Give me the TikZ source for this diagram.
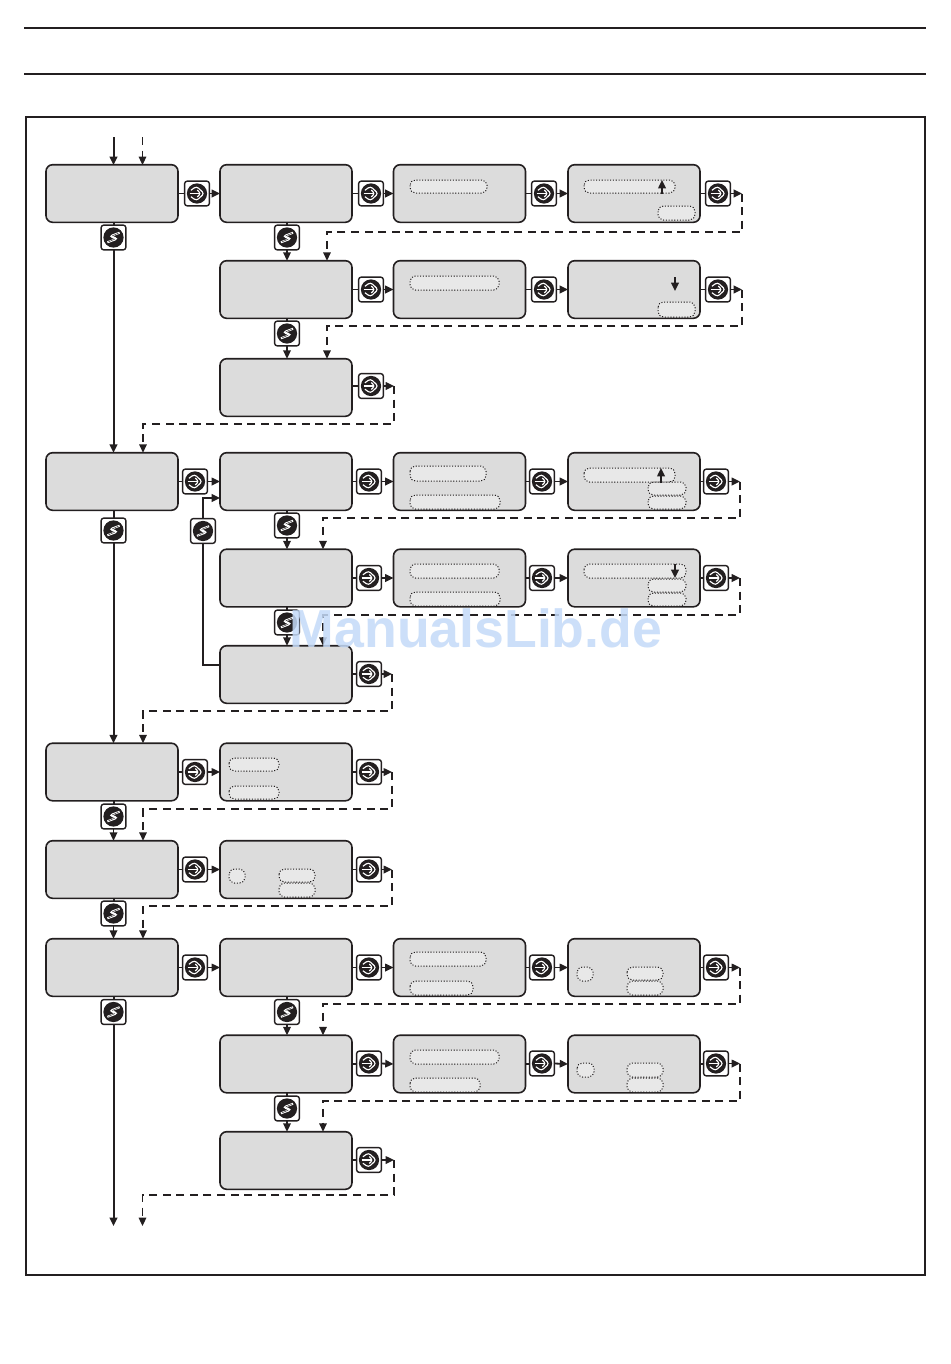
\documentclass[tikz,border=0pt]{standalone}
\usepackage{fontspec}
\setmainfont{Liberation Sans}
\usetikzlibrary{arrows.meta}
\definecolor{panelgray}{HTML}{DCDCDC}
\definecolor{inkc}{HTML}{231F20}
\definecolor{wmark}{HTML}{C4DAF8}
\tikzset{
 x=0.75pt,y=-0.75pt,
 panel/.style={draw=inkc,line width=1.2pt,fill=panelgray,rounded corners=5pt,minimum width=99pt,minimum height=43.2pt,inner sep=0pt,outer sep=0pt},
 btnbase/.style={draw=inkc,line width=1.05pt,fill=white,rounded corners=2pt,minimum width=18.6pt,minimum height=18.6pt,inner sep=0pt,outer sep=0pt},
 nextbtn/.style={btnbase,path picture={
   \fill[inkc] (path picture bounding box.center) circle (7.6pt);
   \begin{scope}[shift={(path picture bounding box.center)},x=1pt,y=1pt]
   \draw[white,line width=0.85pt,line join=miter] (-4.6,2.4)--(-0.4,5.4)--(5.4,0)--(-0.4,-5.4)--(-4.6,-2.4);
   \draw[white,line width=0.85pt] (-5.6,0)--(2.6,0);
   \draw[white,line width=0.85pt] (0.2,2.6)--(2.9,0)--(0.2,-2.6);
   \end{scope}}},
 selbtn/.style={btnbase,path picture={
   \fill[inkc] (path picture bounding box.center) circle (7.6pt);
   \begin{scope}[shift={(path picture bounding box.center)},x=1pt,y=1pt]
   \draw[white,line width=1.5pt,line join=miter] (4.6,3.6)--(-2.6,0.9)--(2.8,-0.9)--(-4.6,-3.6);
   \draw[inkc,line width=0.3pt] (3.8,3.3)--(-1,1.2);
   \draw[inkc,line width=0.3pt] (-3.8,-3.3)--(1,-1.2);
   \end{scope}}},
 hotarea/.style={draw=inkc,line width=0.75pt,dash pattern=on 0.8pt off 1.3pt,fill=white,fill opacity=0.35,rounded corners=4pt},
 solidline/.style={draw=inkc,line width=1.5pt},
 tiparrow/.style={draw=inkc,line width=1.35pt,-{Triangle[length=6.2pt,width=5.6pt]}},
 dashline/.style={draw=inkc,line width=1.15pt,dash pattern=on 6pt off 4.2pt},
 dasharrow/.style={dashline,-{Triangle[length=6.2pt,width=5.6pt]}},
 edgeline/.style={draw=inkc,line width=1pt},
}
\newcommand{\hot}[4]{\path[hotarea] (#1,#2) rectangle (#3,#4);}
\begin{document}
\begin{tikzpicture}
\useasboundingbox (0,0) rectangle (950,1364);
\fill[white] (0,0) rectangle (950,1364);
\coordinate (ruleAl) at (24,28); \coordinate (ruleAr) at (926,28);
\coordinate (ruleBl) at (24,74); \coordinate (ruleBr) at (926,74);
\draw[edgeline,line width=1.2pt] (ruleAl)--(ruleAr);
\draw[edgeline,line width=1.2pt] (ruleBl)--(ruleBr);
\draw[edgeline,line width=1.3pt] (26,117) rectangle (925,1275);

% panels
\node[panel] (a1) at (112,193.5) {};
\node[panel] (b1) at (286,193.5) {};
\node[panel] (c1) at (459.5,193.5) {};
\node[panel] (d1) at (634,193.5) {};
\node[panel] (b2) at (286,289.5) {};
\node[panel] (c2) at (459.5,289.5) {};
\node[panel] (d2) at (634,289.5) {};
\node[panel] (b3) at (286,387.5) {};
\node[panel] (a4) at (112,481.5) {};
\node[panel] (b4) at (286,481.5) {};
\node[panel] (c4) at (459.5,481.5) {};
\node[panel] (d4) at (634,481.5) {};
\node[panel] (b5) at (286,578) {};
\node[panel] (c5) at (459.5,578) {};
\node[panel] (d5) at (634,578) {};
\node[panel] (b6) at (286,674.5) {};
\node[panel] (a7) at (112,772) {};
\node[panel] (b7) at (286,772) {};
\node[panel] (a8) at (112,869.5) {};
\node[panel] (b8) at (286,869.5) {};
\node[panel] (a9) at (112,967.5) {};
\node[panel] (b9) at (286,967.5) {};
\node[panel] (c9) at (459.5,967.5) {};
\node[panel] (d9) at (634,967.5) {};
\node[panel] (b10) at (286,1064) {};
\node[panel] (c10) at (459.5,1064) {};
\node[panel] (d10) at (634,1064) {};
\node[panel] (b11) at (286,1160.5) {};

% dotted highlight areas
\hot{410}{180}{487}{193}
\hot{584}{180}{675}{193}
\hot{658}{206}{695}{220}
\hot{410}{276}{499}{290}
\hot{658}{302}{695}{317}
\hot{410}{466}{486}{481}
\hot{410}{495}{500}{509}
\hot{584}{468}{675}{482}
\hot{648}{482}{686}{495}
\hot{648}{496}{686}{509}
\hot{410}{564}{499}{578}
\hot{410}{592}{500}{606}
\hot{584}{564}{686}{578}
\hot{648}{579}{686}{592}
\hot{648}{593}{686}{606}
\hot{229}{758}{279}{771}
\hot{229}{786}{279}{799}
\hot{229}{869}{245}{883}
\hot{279}{869}{315}{882}
\hot{279}{883}{315}{897}
\hot{410}{952}{486}{966}
\hot{410}{981}{473}{995}
\hot{577}{967}{593}{981}
\hot{627}{967}{663}{980}
\hot{627}{981}{663}{995}
\hot{410}{1050}{499}{1064}
\hot{410}{1078}{480}{1092}
\hot{577}{1063}{594}{1077}
\hot{627}{1063}{663}{1077}
\hot{627}{1078}{663}{1092}

% coordinates for small arrows in the panels
\coordinate (u1s) at (662,194); \coordinate (u1e) at (662,180);
\coordinate (u2s) at (675,277); \coordinate (u2e) at (675,291);
\coordinate (u4s) at (661,483); \coordinate (u4e) at (661,468);
\coordinate (u5s) at (675,564); \coordinate (u5e) at (675,578);
\draw[tiparrow] (u1s)--(u1e);
\draw[tiparrow] (u2s)--(u2e);
\draw[tiparrow] (u4s)--(u4e);
\draw[tiparrow] (u5s)--(u5e);

% entry and exit arrows
\coordinate (inS) at (113.5,137); \coordinate (inD) at (142.5,137);
\coordinate (inDt) at (142.5,165);
\coordinate (outS) at (113.5,1226); \coordinate (outD) at (142.5,1226);
\draw[tiparrow,solidline] (inS)--(113.5,165);
\draw[dasharrow] (inD)--(inDt);

% buttons
\node[nextbtn] (n1a) at (197,193.5) {};
\node[nextbtn] (n1b) at (371,193.5) {};
\node[nextbtn] (n1c) at (544,193.5) {};
\node[nextbtn] (n1d) at (718,193.5) {};
\node[nextbtn] (n2b) at (371,289.5) {};
\node[nextbtn] (n2c) at (544,289.5) {};
\node[nextbtn] (n2d) at (718,289.5) {};
\node[nextbtn] (n3b) at (371,386) {};
\node[nextbtn] (n4a) at (195,481.5) {};
\node[nextbtn] (n4b) at (369,481.5) {};
\node[nextbtn] (n4c) at (542,481.5) {};
\node[nextbtn] (n4d) at (716,481.5) {};
\node[nextbtn] (n5b) at (369,578) {};
\node[nextbtn] (n5c) at (542,578) {};
\node[nextbtn] (n5d) at (716,578) {};
\node[nextbtn] (n6b) at (369,674) {};
\node[nextbtn] (n7a) at (195,772) {};
\node[nextbtn] (n7b) at (369,772) {};
\node[nextbtn] (n8a) at (195,869.5) {};
\node[nextbtn] (n8b) at (369,869.5) {};
\node[nextbtn] (n9a) at (195,967.5) {};
\node[nextbtn] (n9b) at (369,967.5) {};
\node[nextbtn] (n9c) at (542,967.5) {};
\node[nextbtn] (n9d) at (716,967.5) {};
\node[nextbtn] (n10b) at (369,1063.5) {};
\node[nextbtn] (n10c) at (542,1063.5) {};
\node[nextbtn] (n10d) at (716,1063.5) {};
\node[nextbtn] (n11b) at (369,1160) {};

\node[selbtn] (s1a) at (113.5,237.5) {};
\node[selbtn] (s1b) at (287,237.5) {};
\node[selbtn] (s2b) at (287,333.5) {};
\node[selbtn] (s4a) at (113.5,530.5) {};
\node[selbtn] (s4b) at (287,525.5) {};
\node[selbtn] (sloop) at (203,531) {};
\node[selbtn] (s5b) at (287,622.5) {};
\node[selbtn] (s7a) at (113.5,816.5) {};
\node[selbtn] (s8a) at (113.5,913.5) {};
\node[selbtn] (s9a) at (113.5,1012) {};
\node[selbtn] (s9b) at (287,1012) {};
\node[selbtn] (s10b) at (287,1108.5) {};

% next-button connectors
\foreach \p/\q in {a1/n1a,b1/n1b,c1/n1c,d1/n1d,b2/n2b,c2/n2c,d2/n2d,a4/n4a,b4/n4b,c4/n4c,d4/n4d,b5/n5b,c5/n5c,d5/n5d,a7/n7a,b7/n7b,a8/n8a,b8/n8b,a9/n9a,b9/n9b,c9/n9c,d9/n9d,b10/n10b,c10/n10c,d10/n10d}{
  \draw[solidline,line width=1.2pt] (\p.east)--(\p.east -| \q.west);
}
\draw[solidline,line width=1.2pt] (b3.east |- n3b)--(n3b.west);
\draw[solidline,line width=1.2pt] (b6.east |- n6b)--(n6b.west);
\draw[solidline,line width=1.2pt] (b11.east |- n11b)--(n11b.west);
\foreach \p/\q in {n1a/b1,n1b/c1,n1c/d1,n2b/c2,n2c/d2,n4a/b4,n4b/c4,n4c/d4,n5b/c5,n5c/d5,n7a/b7,n8a/b8,n9a/b9,n9b/c9,n9c/d9,n10b/c10,n10c/d10}{
  \draw[tiparrow] (\p.east)--(\q.west);
}

% select-button connectors
\draw[solidline] (a1.south -| s1a)--(s1a.north);
\draw[tiparrow,solidline] (s1a.south)--(s1a.south |- a4.north);
\draw[solidline] (a4.south -| s4a)--(s4a.north);
\draw[tiparrow,solidline] (s4a.south)--(s4a.south |- a7.north);
\draw[solidline] (a7.south -| s7a)--(s7a.north);
\draw[tiparrow] (s7a.south)--(s7a.south |- a8.north);
\draw[solidline] (a8.south -| s8a)--(s8a.north);
\draw[tiparrow] (s8a.south)--(s8a.south |- a9.north);
\draw[solidline] (a9.south -| s9a)--(s9a.north);
\draw[tiparrow,solidline] (s9a.south)--(outS);
\draw[solidline] (b1.south -| s1b)--(s1b.north);
\draw[tiparrow] (s1b.south)--(s1b.south |- b2.north);
\draw[solidline] (b2.south -| s2b)--(s2b.north);
\draw[tiparrow] (s2b.south)--(s2b.south |- b3.north);
\draw[solidline] (b4.south -| s4b)--(s4b.north);
\draw[tiparrow] (s4b.south)--(s4b.south |- b5.north);
\draw[solidline] (b5.south -| s5b)--(s5b.north);
\draw[tiparrow] (s5b.south)--(s5b.south |- b6.north);
\draw[solidline] (b9.south -| s9b)--(s9b.north);
\draw[tiparrow] (s9b.south)--(s9b.south |- b10.north);
\draw[solidline] (b10.south -| s10b)--(s10b.north);
\draw[tiparrow] (s10b.south)--(s10b.south |- b11.north);

% loop back
\coordinate (loopin) at (220,498);
\coordinate (loopout) at (220,665);
\draw[solidline] (loopout)-|(sloop.south);
\draw[tiparrow,solidline] (sloop.north)|-(loopin);

% dashed returns: corner X, lower Y, target X, target panel
\foreach \btn/\cx/\ly/\tx/\tgt in {n1d/742/232/327/b2,n2d/742/326/327/b3,n3b/394/424/143/a4,n4d/740/518/323/b5,n5d/740/615/323/b6,n6b/392/711/143/a7,n7b/392/809/143/a8,n8b/392/906/143/a9,n9d/740/1004/323/b10,n10d/740/1101/323/b11}{
  \draw[tiparrow] (\btn.east)--(\cx,0 |- \btn.east);
  \draw[dasharrow] (\cx,0 |- \btn.east)--(\cx,\ly)--(\tx,\ly)--(\tx,0 |- \tgt.north);
}
\draw[tiparrow] (n11b.east)--(394,0 |- n11b.east);
\draw[dasharrow] (394,0 |- n11b.east)--(394,1195)--(142.5,1195)--(outD);

% watermark
\node[text=wmark,text opacity=0.85,font=\bfseries,inner sep=0pt] (wm) at (476,628) {\fontsize{40.2pt}{40.2pt}\selectfont ManualsLib.de};
\end{tikzpicture}
\end{document}
